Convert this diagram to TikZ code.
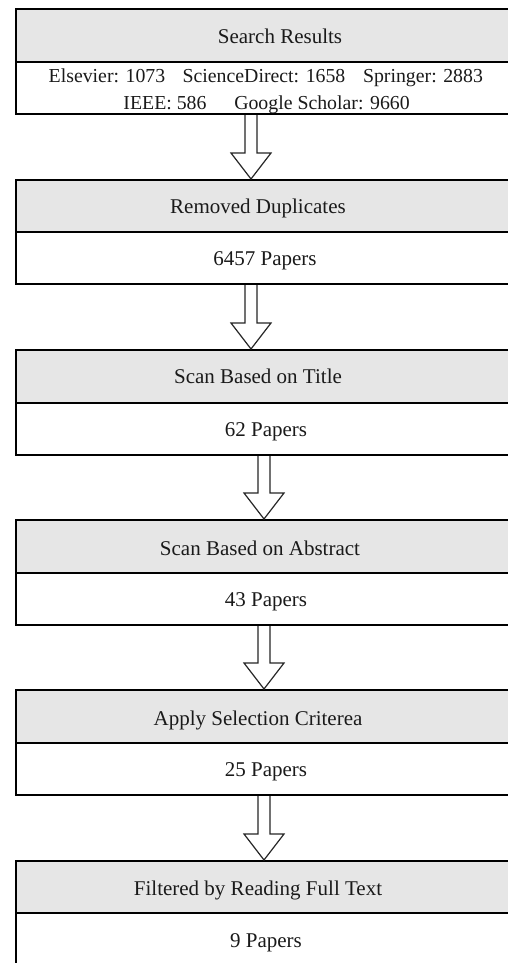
\documentclass[tikz,border=0pt]{standalone}
\usepackage{fontspec}
\setmainfont{Liberation Serif}
\usetikzlibrary{calc}
\definecolor{hdrgray}{HTML}{E6E6E6}
\definecolor{txtcol}{HTML}{1A1A1A}
\tikzset{
  hdr/.style={draw=black, line width=2bp, fill=hdrgray, rectangle, inner sep=0pt,
              minimum width=530bp, minimum height=53bp, anchor=north west},
  bdy/.style={draw=black, line width=2bp, fill=white, rectangle, inner sep=0pt,
              minimum width=530bp, minimum height=52bp, anchor=north west},
  lbl/.style={inner sep=0pt, anchor=base, text=txtcol, font=\fontsize{21bp}{24bp}\selectfont},
  lbls/.style={inner sep=0pt, anchor=base, text=txtcol, font=\fontsize{19.8bp}{23bp}\selectfont},
  blk/.style={draw=black!85, line width=1.2bp, fill=white, line join=miter}
}
\newcommand{\blkarrow}[3]{%
  \filldraw[blk]
    (#1-6,0 |- #2.south) --
    ($(#1-6,0 |- #3.north)+(0,-26)$) --
    ($(#1-20,0 |- #3.north)+(0,-26)$) --
    (#1,0 |- #3.north) --
    ($(#1+20,0 |- #3.north)+(0,-26)$) --
    ($(#1+6,0 |- #3.north)+(0,-26)$) --
    (#1+6,0 |- #2.south);
}
\begin{document}
\begin{tikzpicture}[x=1bp,y=-1bp]
\useasboundingbox (0,0) rectangle (508,963);
\clip (0,0) rectangle (508,963);
\fill[white] (0,0) rectangle (508,963);

% box 1
\node[hdr] (h1) at (15,8) {};
\node[bdy] (b1) at (15,61) {};
% box 2
\node[hdr] (h2) at (15,179) {};
\node[bdy] (b2) at (15,231) {};
% box 3
\node[hdr] (h3) at (15,349) {};
\node[bdy] (b3) at (15,402) {};
% box 4
\node[hdr] (h4) at (15,519) {};
\node[bdy] (b4) at (15,572) {};
% box 5
\node[hdr] (h5) at (15,689) {};
\node[bdy] (b5) at (15,742) {};
% box 6
\node[hdr] (h6) at (15,860) {};
\node[bdy] (b6) at (15,912) {};

% labels (positions are baselines)
\node[lbl] (t1) at (280,43) {Search Results};
\node[lbls] (s1a) at (107,82) {Elsevier: 1073};
\node[lbls] (s1b) at (264,82) {ScienceDirect: 1658};
\node[lbls] (s1c) at (423,82) {Springer: 2883};
\node[lbls] (s1d) at (165,109) {IEEE: 586};
\node[lbls] (s1e) at (322,109) {Google Scholar: 9660};

\node[lbl] (t2) at (258,213) {Removed Duplicates};
\node[lbl] (p2) at (265,265) {6457 Papers};

\node[lbl] (t3) at (258,383) {Scan Based on Title};
\node[lbl] (p3) at (266,436) {62 Papers};

\node[lbl] (t4) at (260,555) {Scan Based on Abstract};
\node[lbl] (p4) at (266,606) {43 Papers};

\node[lbl] (t5) at (258,725) {Apply Selection Criterea};
\node[lbl] (p5) at (266,776) {25 Papers};

\node[lbl] (t6) at (258,895) {Filtered by Reading Full Text};
\node[lbl] (p6) at (266,947) {9 Papers};

% block arrows
\blkarrow{251}{b1}{h2}
\blkarrow{251}{b2}{h3}
\blkarrow{264}{b3}{h4}
\blkarrow{264}{b4}{h5}
\blkarrow{264}{b5}{h6}
\end{tikzpicture}
\end{document}
